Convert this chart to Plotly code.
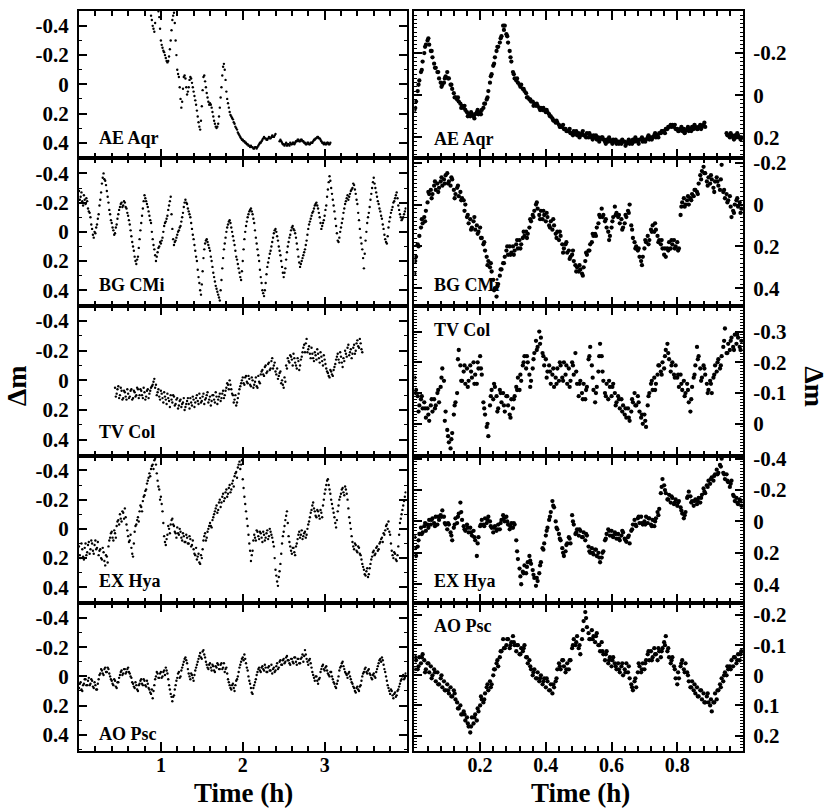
import plotly.graph_objects as go

# ---------------- time grids (hours) ----------------
T_LEFT = [
    0.00, 0.02, 0.04, 0.06, 0.08, 0.10, 0.12, 0.14, 0.16, 0.18,
    0.20, 0.22, 0.24, 0.26, 0.28, 0.30, 0.32, 0.34, 0.36, 0.38,
    0.40, 0.42, 0.44, 0.46, 0.48, 0.50, 0.52, 0.54, 0.56, 0.58,
    0.60, 0.62, 0.64, 0.66, 0.68, 0.70, 0.72, 0.74, 0.76, 0.78,
    0.80, 0.82, 0.84, 0.86, 0.88, 0.90, 0.92, 0.94, 0.96, 0.98,
    1.00, 1.02, 1.04, 1.06, 1.08, 1.10, 1.12, 1.14, 1.16, 1.18,
    1.20, 1.22, 1.24, 1.26, 1.28, 1.30, 1.32, 1.34, 1.36, 1.38,
    1.40, 1.42, 1.44, 1.46, 1.48, 1.50, 1.52, 1.54, 1.56, 1.58,
    1.60, 1.62, 1.64, 1.66, 1.68, 1.70, 1.72, 1.74, 1.76, 1.78,
    1.80, 1.82, 1.84, 1.86, 1.88, 1.90, 1.92, 1.94, 1.96, 1.98,
    2.00, 2.02, 2.04, 2.06, 2.08, 2.10, 2.12, 2.14, 2.16, 2.18,
    2.20, 2.22, 2.24, 2.26, 2.28, 2.30, 2.32, 2.34, 2.36, 2.38,
    2.40, 2.42, 2.44, 2.46, 2.48, 2.50, 2.52, 2.54, 2.56, 2.58,
    2.60, 2.62, 2.64, 2.66, 2.68, 2.70, 2.72, 2.74, 2.76, 2.78,
    2.80, 2.82, 2.84, 2.86, 2.88, 2.90, 2.92, 2.94, 2.96, 2.98,
    3.00, 3.02, 3.04, 3.06, 3.08, 3.10, 3.12, 3.14, 3.16, 3.18,
    3.20, 3.22, 3.24, 3.26, 3.28, 3.30, 3.32, 3.34, 3.36, 3.38,
    3.40, 3.42, 3.44, 3.46, 3.48, 3.50, 3.52, 3.54, 3.56, 3.58,
    3.60, 3.62, 3.64, 3.66, 3.68, 3.70, 3.72, 3.74, 3.76, 3.78,
    3.80, 3.82, 3.84, 3.86, 3.88, 3.90, 3.92, 3.94, 3.96, 3.98,
]

T_LEFT_B = [
    0.01, 0.03, 0.05, 0.07, 0.09, 0.11, 0.13, 0.15, 0.17, 0.19,
    0.21, 0.23, 0.25, 0.27, 0.29, 0.31, 0.33, 0.35, 0.37, 0.39,
    0.41, 0.43, 0.45, 0.47, 0.49, 0.51, 0.53, 0.55, 0.57, 0.59,
    0.61, 0.63, 0.65, 0.67, 0.69, 0.71, 0.73, 0.75, 0.77, 0.79,
    0.81, 0.83, 0.85, 0.87, 0.89, 0.91, 0.93, 0.95, 0.97, 0.99,
    1.01, 1.03, 1.05, 1.07, 1.09, 1.11, 1.13, 1.15, 1.17, 1.19,
    1.21, 1.23, 1.25, 1.27, 1.29, 1.31, 1.33, 1.35, 1.37, 1.39,
    1.41, 1.43, 1.45, 1.47, 1.49, 1.51, 1.53, 1.55, 1.57, 1.59,
    1.61, 1.63, 1.65, 1.67, 1.69, 1.71, 1.73, 1.75, 1.77, 1.79,
    1.81, 1.83, 1.85, 1.87, 1.89, 1.91, 1.93, 1.95, 1.97, 1.99,
    2.01, 2.03, 2.05, 2.07, 2.09, 2.11, 2.13, 2.15, 2.17, 2.19,
    2.21, 2.23, 2.25, 2.27, 2.29, 2.31, 2.33, 2.35, 2.37, 2.39,
    2.41, 2.43, 2.45, 2.47, 2.49, 2.51, 2.53, 2.55, 2.57, 2.59,
    2.61, 2.63, 2.65, 2.67, 2.69, 2.71, 2.73, 2.75, 2.77, 2.79,
    2.81, 2.83, 2.85, 2.87, 2.89, 2.91, 2.93, 2.95, 2.97, 2.99,
    3.01, 3.03, 3.05, 3.07, 3.09, 3.11, 3.13, 3.15, 3.17, 3.19,
    3.21, 3.23, 3.25, 3.27, 3.29, 3.31, 3.33, 3.35, 3.37, 3.39,
    3.41, 3.43, 3.45, 3.47, 3.49, 3.51, 3.53, 3.55, 3.57, 3.59,
    3.61, 3.63, 3.65, 3.67, 3.69, 3.71, 3.73, 3.75, 3.77, 3.79,
    3.81, 3.83, 3.85, 3.87, 3.89, 3.91, 3.93, 3.95, 3.97, 3.99,
]

T_RIGHT = [
    0.000, 0.005, 0.010, 0.015, 0.020, 0.025, 0.030, 0.035, 0.040, 0.045,
    0.050, 0.055, 0.060, 0.065, 0.070, 0.075, 0.080, 0.085, 0.090, 0.095,
    0.100, 0.105, 0.110, 0.115, 0.120, 0.125, 0.130, 0.135, 0.140, 0.145,
    0.150, 0.155, 0.160, 0.165, 0.170, 0.175, 0.180, 0.185, 0.190, 0.195,
    0.200, 0.205, 0.210, 0.215, 0.220, 0.225, 0.230, 0.235, 0.240, 0.245,
    0.250, 0.255, 0.260, 0.265, 0.270, 0.275, 0.280, 0.285, 0.290, 0.295,
    0.300, 0.305, 0.310, 0.315, 0.320, 0.325, 0.330, 0.335, 0.340, 0.345,
    0.350, 0.355, 0.360, 0.365, 0.370, 0.375, 0.380, 0.385, 0.390, 0.395,
    0.400, 0.405, 0.410, 0.415, 0.420, 0.425, 0.430, 0.435, 0.440, 0.445,
    0.450, 0.455, 0.460, 0.465, 0.470, 0.475, 0.480, 0.485, 0.490, 0.495,
    0.500, 0.505, 0.510, 0.515, 0.520, 0.525, 0.530, 0.535, 0.540, 0.545,
    0.550, 0.555, 0.560, 0.565, 0.570, 0.575, 0.580, 0.585, 0.590, 0.595,
    0.600, 0.605, 0.610, 0.615, 0.620, 0.625, 0.630, 0.635, 0.640, 0.645,
    0.650, 0.655, 0.660, 0.665, 0.670, 0.675, 0.680, 0.685, 0.690, 0.695,
    0.700, 0.705, 0.710, 0.715, 0.720, 0.725, 0.730, 0.735, 0.740, 0.745,
    0.750, 0.755, 0.760, 0.765, 0.770, 0.775, 0.780, 0.785, 0.790, 0.795,
    0.800, 0.805, 0.810, 0.815, 0.820, 0.825, 0.830, 0.835, 0.840, 0.845,
    0.850, 0.855, 0.860, 0.865, 0.870, 0.875, 0.880, 0.885, 0.890, 0.895,
    0.900, 0.905, 0.910, 0.915, 0.920, 0.925, 0.930, 0.935, 0.940, 0.945,
    0.950, 0.955, 0.960, 0.965, 0.970, 0.975, 0.980, 0.985, 0.990, 0.995,
]

T_RIGHT_B = [
    0.0025, 0.0125, 0.0225, 0.0325, 0.0425, 0.0525, 0.0625, 0.0725, 0.0825, 0.0925,
    0.1025, 0.1125, 0.1225, 0.1325, 0.1425, 0.1525, 0.1625, 0.1725, 0.1825, 0.1925,
    0.2025, 0.2125, 0.2225, 0.2325, 0.2425, 0.2525, 0.2625, 0.2725, 0.2825, 0.2925,
    0.3025, 0.3125, 0.3225, 0.3325, 0.3425, 0.3525, 0.3625, 0.3725, 0.3825, 0.3925,
    0.4025, 0.4125, 0.4225, 0.4325, 0.4425, 0.4525, 0.4625, 0.4725, 0.4825, 0.4925,
    0.5025, 0.5125, 0.5225, 0.5325, 0.5425, 0.5525, 0.5625, 0.5725, 0.5825, 0.5925,
    0.6025, 0.6125, 0.6225, 0.6325, 0.6425, 0.6525, 0.6625, 0.6725, 0.6825, 0.6925,
    0.7025, 0.7125, 0.7225, 0.7325, 0.7425, 0.7525, 0.7625, 0.7725, 0.7825, 0.7925,
    0.8025, 0.8125, 0.8225, 0.8325, 0.8425, 0.8525, 0.8625, 0.8725, 0.8825, 0.8925,
    0.9025, 0.9125, 0.9225, 0.9325, 0.9425, 0.9525, 0.9625, 0.9725, 0.9825, 0.9925,
]

# ---------------- left column light curves (Δm vs time, h) ----------------
# *_A sampled on T_LEFT, *_B on T_LEFT_B; START = first index on the grid
AE_AQR_L_START = 44
AE_AQR_L_A = [
    -0.47, -0.40, -0.36, -0.56, -0.56, -0.46, -0.30, -0.25, -0.22, -0.18,
    -0.15, -0.19, -0.30, -0.44, -0.49, -0.30, -0.10, -0.05, 0.10, 0.12,
    -0.05, -0.04, 0.07, 0.02, -0.05, -0.01, 0.05, 0.11, 0.18, 0.26,
    0.31, 0.15, -0.05, -0.02, 0.06, 0.12, 0.13, 0.16, 0.22, 0.27,
    0.30, 0.27, 0.16, 0.02, -0.12, -0.10, 0.05, 0.13, 0.19, 0.22,
    0.24, 0.27, 0.30, 0.33, 0.35, 0.37, 0.38, 0.39, 0.40, 0.41,
    0.42, 0.42, 0.43, 0.44, 0.43, 0.43, 0.41, 0.40, 0.38, 0.36,
    0.37, 0.38, 0.36, 0.37, 0.35, 0.36, 0.34, None, None, 0.38,
    0.40, 0.41, 0.41, 0.42, 0.41, 0.40, 0.41, 0.40, 0.40, 0.39,
    0.38, 0.39, 0.38, 0.39, 0.40, 0.41, 0.40, 0.41, 0.40, 0.39,
    0.38, 0.37, 0.36, 0.37, 0.39, 0.40, 0.40, 0.41, 0.40, 0.41,
]
AE_AQR_L_B = [
    -0.44, -0.38, -0.42, -0.56, -0.50, -0.38, -0.27, -0.23, -0.20, -0.16,
    -0.16, -0.24, -0.37, -0.47, -0.42, -0.20, -0.07, 0.02, 0.16, 0.03,
    -0.06, 0.02, 0.05, -0.03, -0.04, 0.02, 0.08, 0.14, 0.22, 0.29,
    0.25, 0.04, -0.06, 0.02, 0.09, 0.14, 0.14, 0.19, 0.25, 0.29,
    0.29, 0.22, 0.09, -0.06, -0.14, -0.03, 0.10, 0.16, 0.21, 0.23,
    0.26, 0.29, 0.31, 0.34, 0.36, 0.38, 0.39, 0.40, 0.41, 0.42,
    0.43, 0.43, 0.44, 0.43, 0.44, 0.42, 0.40, 0.39, 0.37, 0.37,
    0.38, 0.37, 0.37, 0.36, 0.36, 0.35, None, None, 0.39, 0.39,
    0.41, 0.42, 0.40, 0.41, 0.42, 0.41, 0.40, 0.41, 0.39, 0.38,
    0.39, 0.38, 0.39, 0.40, 0.41, 0.40, 0.41, 0.40, 0.40, 0.38,
    0.37, 0.36, 0.37, 0.38, 0.40, 0.41, 0.41, 0.40, 0.41, 0.40,
]

BG_CMI_L_START = 0
BG_CMI_L_A = [
    -0.28, -0.24, -0.21, -0.25, -0.19, -0.21, -0.14, -0.10, -0.02, 0.04,
    0.01, -0.05, -0.12, -0.22, -0.33, -0.40, -0.35, -0.28, -0.20, -0.12,
    -0.06, -0.01, 0.01, -0.05, -0.12, -0.17, -0.20, -0.18, -0.20, -0.16,
    -0.11, -0.05, 0.03, 0.10, 0.17, 0.22, 0.17, 0.05, -0.06, -0.16,
    -0.25, -0.21, -0.17, -0.11, -0.06, 0.05, 0.12, 0.20, 0.14, 0.10,
    0.08, 0.04, -0.04, -0.07, -0.11, -0.18, -0.24, -0.02, 0.09, 0.06,
    0.02, -0.01, -0.04, -0.10, -0.17, -0.22, -0.19, -0.14, -0.10, -0.02,
    0.05, 0.13, 0.20, 0.31, 0.40, 0.36, 0.18, 0.08, 0.05, 0.09,
    0.13, 0.20, 0.28, 0.34, 0.39, 0.43, 0.47, 0.33, 0.18, 0.08,
    0.00, -0.05, -0.08, -0.03, 0.03, 0.09, 0.17, 0.22, 0.28, 0.33,
    0.20, 0.05, -0.04, -0.10, -0.14, -0.16, -0.12, -0.06, 0.04, 0.12,
    0.20, 0.31, 0.40, 0.44, 0.35, 0.24, 0.18, 0.13, 0.07, 0.01,
    -0.02, 0.03, 0.10, 0.16, 0.24, 0.31, 0.25, 0.14, 0.07, 0.02,
    -0.03, -0.02, 0.01, 0.08, 0.17, 0.24, 0.20, 0.16, 0.12, 0.06,
    -0.02, -0.07, -0.11, -0.14, -0.18, -0.20, -0.16, -0.10, -0.02, -0.06,
    -0.11, -0.18, -0.29, -0.38, -0.30, -0.22, -0.14, -0.04, 0.06, 0.04,
    -0.03, -0.09, -0.16, -0.21, -0.25, -0.24, -0.28, -0.30, -0.32, -0.26,
    -0.19, -0.08, 0.04, 0.12, 0.25, 0.06, -0.06, -0.13, -0.22, -0.30,
    -0.37, -0.30, -0.24, -0.19, -0.14, -0.09, -0.02, 0.05, 0.08, -0.03,
    -0.10, -0.15, -0.20, -0.23, -0.27, -0.18, -0.12, -0.08, -0.10, -0.14,
]
BG_CMI_L_B = [
    -0.22, -0.27, -0.18, -0.22, -0.23, -0.16, -0.13, -0.05, 0.02, 0.00,
    -0.03, -0.09, -0.18, -0.27, -0.37, -0.36, -0.32, -0.24, -0.15, -0.08,
    -0.03, 0.02, -0.03, -0.09, -0.15, -0.19, -0.17, -0.21, -0.17, -0.13,
    -0.08, -0.01, 0.07, 0.13, 0.20, 0.19, 0.11, -0.01, -0.11, -0.21,
    -0.23, -0.19, -0.14, -0.08, 0.00, 0.09, 0.16, 0.17, 0.11, 0.07,
    0.06, 0.00, -0.06, -0.09, -0.15, -0.21, -0.12, 0.05, 0.07, 0.04,
    0.00, -0.03, -0.07, -0.13, -0.20, -0.20, -0.16, -0.12, -0.06, 0.02,
    0.09, 0.17, 0.26, 0.35, 0.43, 0.27, 0.12, 0.06, 0.07, 0.11,
    0.17, 0.24, 0.31, 0.37, 0.41, 0.45, 0.40, 0.25, 0.12, 0.04,
    -0.03, -0.07, -0.06, 0.00, 0.06, 0.13, 0.19, 0.25, 0.31, 0.27,
    0.12, 0.00, -0.07, -0.12, -0.15, -0.14, -0.09, -0.01, 0.08, 0.16,
    0.26, 0.35, 0.42, 0.40, 0.29, 0.21, 0.15, 0.10, 0.04, -0.01,
    0.00, 0.06, 0.13, 0.20, 0.28, 0.28, 0.19, 0.10, 0.04, -0.01,
    -0.04, -0.01, 0.04, 0.12, 0.21, 0.22, 0.18, 0.14, 0.09, 0.02,
    -0.05, -0.09, -0.13, -0.16, -0.19, -0.18, -0.13, -0.06, -0.04, -0.08,
    -0.15, -0.24, -0.34, -0.35, -0.26, -0.18, -0.09, 0.01, 0.07, 0.00,
    -0.06, -0.13, -0.19, -0.23, -0.22, -0.26, -0.29, -0.33, -0.29, -0.22,
    -0.13, -0.02, 0.08, 0.18, 0.15, 0.00, -0.10, -0.17, -0.26, -0.34,
    -0.33, -0.27, -0.21, -0.16, -0.11, -0.05, 0.02, 0.07, 0.03, -0.07,
    -0.13, -0.17, -0.21, -0.25, -0.23, -0.15, -0.10, -0.09, -0.12, -0.16,
]

TV_COL_L_START = 22
TV_COL_L_A = [
    0.05, 0.09, 0.04, 0.10, 0.07, 0.12, 0.08, 0.13, 0.09, 0.11,
    0.06, 0.12, 0.08, 0.10, 0.06, 0.10, 0.07, 0.12, 0.08, 0.11,
    0.06, 0.09, 0.05, 0.03, -0.01, 0.03, 0.08, 0.11, 0.07, 0.12,
    0.08, 0.13, 0.09, 0.14, 0.10, 0.15, 0.11, 0.16, 0.12, 0.17,
    0.13, 0.16, 0.12, 0.18, 0.14, 0.16, 0.12, 0.17, 0.13, 0.15,
    0.10, 0.16, 0.12, 0.14, 0.09, 0.13, 0.10, 0.15, 0.11, 0.14,
    0.10, 0.15, 0.11, 0.13, 0.09, 0.12, 0.07, 0.10, 0.05, 0.03,
    0.00, 0.06, 0.10, 0.13, 0.17, 0.12, 0.06, 0.02, -0.02, 0.03,
    -0.03, 0.02, -0.01, 0.04, 0.00, 0.03, -0.02, 0.05, 0.01, -0.04,
    -0.07, -0.03, -0.10, -0.06, -0.12, -0.08, -0.15, -0.10, -0.06, -0.08,
    -0.03, -0.06, 0.00, 0.05, 0.01, -0.08, -0.13, -0.17, -0.14, -0.18,
    -0.12, -0.08, -0.13, -0.10, -0.16, -0.22, -0.19, -0.28, -0.21, -0.18,
    -0.22, -0.15, -0.19, -0.14, -0.18, -0.12, -0.16, -0.10, -0.14, -0.08,
    -0.05, -0.02, -0.06, -0.03, -0.09, -0.14, -0.18, -0.12, -0.16, -0.09,
    -0.13, -0.18, -0.22, -0.17, -0.21, -0.18, -0.24, -0.20, -0.27, -0.22,
    -0.25, -0.19,
]
TV_COL_L_B = [
    0.11, 0.06, 0.12, 0.05, 0.13, 0.07, 0.11, 0.06, 0.12, 0.07,
    0.13, 0.07, 0.11, 0.05, 0.12, 0.06, 0.10, 0.05, 0.13, 0.07,
    0.12, 0.07, 0.04, 0.01, 0.05, 0.10, 0.06, 0.13, 0.09, 0.15,
    0.11, 0.16, 0.12, 0.18, 0.13, 0.10, 0.17, 0.13, 0.19, 0.14,
    0.18, 0.15, 0.20, 0.16, 0.12, 0.19, 0.15, 0.11, 0.18, 0.12,
    0.14, 0.09, 0.15, 0.11, 0.16, 0.12, 0.08, 0.13, 0.17, 0.10,
    0.13, 0.08, 0.16, 0.11, 0.14, 0.09, 0.12, 0.07, 0.02, 0.06,
    0.03, 0.09, 0.15, 0.10, 0.15, 0.09, 0.04, 0.00, 0.02, -0.02,
    0.01, -0.03, 0.03, -0.02, 0.05, 0.01, 0.04, -0.03, 0.02, -0.06,
    -0.04, -0.09, -0.05, -0.11, -0.07, -0.13, -0.08, -0.12, -0.04, -0.01,
    -0.05, 0.02, 0.03, -0.02, -0.10, -0.15, -0.12, -0.16, -0.10, -0.15,
    -0.10, -0.15, -0.07, -0.14, -0.19, -0.24, -0.25, -0.19, -0.23, -0.15,
    -0.18, -0.13, -0.17, -0.21, -0.15, -0.19, -0.13, -0.17, -0.11, -0.06,
    -0.03, -0.07, -0.04, -0.07, -0.11, -0.16, -0.14, -0.19, -0.12, -0.15,
    -0.20, -0.16, -0.24, -0.19, -0.15, -0.22, -0.18, -0.25, -0.23, -0.28,
    -0.21,
]

EX_HYA_L_START = 0
EX_HYA_L_A = [
    0.12, 0.20, 0.14, 0.21, 0.10, 0.16, 0.09, 0.14, 0.10, 0.17,
    0.08, 0.13, 0.18, 0.14, 0.21, 0.16, 0.25, 0.19, 0.12, 0.06,
    0.02, 0.08, 0.03, -0.02, -0.06, -0.10, -0.05, -0.11, -0.14, -0.03,
    0.05, 0.08, 0.13, 0.19, 0.02, -0.03, -0.08, -0.12, -0.15, -0.19,
    -0.23, -0.27, -0.33, -0.38, -0.41, -0.44, -0.47, -0.44, -0.33, -0.27,
    -0.22, -0.12, 0.05, 0.11, 0.04, 0.00, -0.03, -0.07, -0.02, 0.03,
    -0.01, 0.04, 0.02, 0.08, 0.05, 0.09, 0.06, 0.10, 0.07, 0.11,
    0.14, 0.18, 0.21, 0.17, 0.24, 0.20, 0.08, 0.03, 0.06, 0.00,
    -0.04, -0.01, -0.08, -0.12, -0.16, -0.13, -0.20, -0.18, -0.24, -0.21,
    -0.27, -0.24, -0.30, -0.27, -0.33, -0.36, -0.39, -0.42, -0.46, -0.44,
    -0.34, -0.22, -0.12, -0.02, 0.10, 0.22, 0.15, 0.04, 0.08, 0.02,
    0.07, 0.03, 0.09, 0.04, 0.06, 0.01, 0.05, 0.02, 0.06, 0.12,
    0.28, 0.36, 0.33, 0.24, 0.10, 0.02, -0.06, -0.12, 0.05, 0.12,
    0.17, 0.13, 0.18, 0.10, 0.04, 0.06, 0.01, 0.05, 0.02, 0.04,
    -0.03, -0.08, -0.13, -0.18, -0.12, -0.08, -0.12, -0.07, -0.11, -0.16,
    -0.24, -0.30, -0.34, -0.27, -0.20, -0.14, -0.08, -0.01, -0.12, -0.20,
    -0.24, -0.28, -0.23, -0.27, -0.20, -0.08, 0.00, 0.09, 0.14, 0.11,
    0.16, 0.13, 0.18, 0.24, 0.28, 0.32, 0.27, 0.31, 0.24, 0.19,
    0.15, 0.17, 0.12, 0.14, 0.09, 0.06, 0.03, 0.01, -0.03, -0.05,
    0.04, 0.15, 0.20, 0.17, 0.22, 0.12, -0.04, -0.10, -0.16, -0.22,
]
EX_HYA_L_B = [
    0.18, 0.10, 0.19, 0.13, 0.18, 0.11, 0.17, 0.08, 0.15, 0.11,
    0.14, 0.09, 0.15, 0.20, 0.13, 0.22, 0.18, 0.23, 0.08, 0.03,
    0.06, 0.01, 0.06, -0.05, -0.03, -0.07, -0.12, -0.07, -0.08, 0.01,
    0.09, 0.04, 0.17, 0.10, -0.02, -0.06, -0.05, -0.16, -0.12, -0.22,
    -0.26, -0.31, -0.35, -0.36, -0.43, -0.41, -0.48, -0.38, -0.29, -0.20,
    -0.17, -0.04, 0.09, 0.07, -0.02, 0.03, -0.06, -0.03, 0.02, 0.06,
    0.03, 0.00, 0.06, 0.03, 0.09, 0.04, 0.10, 0.05, 0.12, 0.08,
    0.17, 0.13, 0.19, 0.23, 0.18, 0.14, 0.05, 0.08, 0.02, -0.02,
    -0.02, -0.06, -0.10, -0.14, -0.11, -0.18, -0.15, -0.22, -0.19, -0.25,
    -0.22, -0.28, -0.25, -0.31, -0.29, -0.38, -0.35, -0.44, -0.41, -0.47,
    -0.28, -0.17, -0.07, 0.04, 0.15, 0.18, 0.08, 0.06, 0.01, 0.05,
    0.02, 0.06, 0.02, 0.08, 0.03, 0.07, 0.00, 0.04, 0.09, 0.20,
    0.32, 0.39, 0.29, 0.17, 0.05, -0.02, -0.09, -0.04, 0.09, 0.15,
    0.13, 0.16, 0.12, 0.07, 0.02, 0.04, 0.07, 0.03, 0.06, 0.00,
    -0.05, -0.11, -0.16, -0.14, -0.09, -0.13, -0.09, -0.13, -0.08, -0.20,
    -0.27, -0.33, -0.30, -0.24, -0.17, -0.11, -0.04, -0.06, -0.16, -0.22,
    -0.27, -0.25, -0.29, -0.24, -0.14, -0.04, 0.05, 0.12, 0.10, 0.15,
    0.12, 0.17, 0.21, 0.26, 0.31, 0.29, 0.33, 0.27, 0.21, 0.16,
    0.18, 0.13, 0.15, 0.10, 0.07, 0.09, 0.04, -0.02, 0.00, 0.02,
    0.10, 0.18, 0.16, 0.21, 0.18, 0.04, -0.07, -0.13, -0.19, -0.25,
]

AO_PSC_L_START = 0
AO_PSC_L_A = [
    0.08, 0.04, 0.10, 0.05, 0.02, 0.06, 0.01, 0.05, 0.03, 0.08,
    0.06, 0.09, 0.02, -0.02, -0.04, -0.01, -0.06, -0.03, -0.05, 0.00,
    0.03, 0.06, 0.03, 0.08, 0.04, -0.01, -0.04, -0.02, -0.05, -0.03,
    -0.06, -0.02, 0.01, 0.05, 0.08, 0.06, 0.10, 0.05, 0.02, 0.06,
    0.03, 0.07, 0.05, 0.09, 0.12, 0.15, 0.06, 0.00, -0.02, 0.01,
    -0.03, 0.00, -0.04, -0.06, -0.02, 0.06, 0.12, 0.17, 0.13, 0.06,
    0.01, -0.03, 0.00, -0.06, -0.10, -0.13, -0.09, -0.02, 0.02, -0.01,
    0.03, -0.04, -0.08, -0.12, -0.16, -0.12, -0.18, -0.13, -0.08, -0.05,
    -0.09, -0.04, -0.07, -0.03, -0.06, -0.08, -0.05, -0.09, -0.06, -0.03,
    -0.06, 0.02, 0.06, 0.09, 0.05, 0.10, 0.03, 0.00, -0.06, -0.10,
    -0.13, -0.15, -0.09, -0.04, 0.03, 0.08, 0.12, 0.06, 0.02, -0.03,
    -0.06, -0.03, -0.07, -0.04, -0.06, -0.03, -0.07, -0.04, -0.02, -0.06,
    -0.04, -0.09, -0.06, -0.11, -0.08, -0.12, -0.10, -0.14, -0.11, -0.08,
    -0.12, -0.09, -0.13, -0.08, -0.12, -0.09, -0.13, -0.10, -0.18, -0.12,
    -0.08, -0.12, -0.06, -0.01, 0.03, 0.00, 0.05, 0.01, -0.05, -0.08,
    -0.04, -0.07, -0.02, 0.00, -0.03, 0.02, 0.05, 0.08, 0.03, -0.04,
    -0.07, -0.10, -0.05, -0.02, 0.01, -0.03, 0.02, 0.05, 0.08, 0.11,
    0.07, 0.10, 0.06, 0.00, -0.03, -0.06, -0.02, -0.05, -0.01, 0.02,
    -0.02, 0.01, -0.05, -0.09, -0.12, -0.13, -0.08, -0.03, 0.03, 0.08,
    0.12, 0.10, 0.15, 0.11, 0.13, 0.09, 0.05, 0.02, -0.01, 0.01,
]
AO_PSC_L_B = [
    0.05, 0.09, 0.06, 0.02, 0.06, 0.03, 0.06, 0.02, 0.07, 0.04,
    0.09, 0.05, -0.01, -0.05, -0.02, -0.05, -0.03, -0.06, -0.02, 0.02,
    0.05, 0.02, 0.07, 0.04, 0.01, -0.03, -0.01, -0.05, -0.02, -0.05,
    -0.03, 0.00, 0.04, 0.07, 0.04, 0.09, 0.06, 0.03, 0.05, 0.02,
    0.06, 0.03, 0.08, 0.11, 0.09, 0.10, 0.02, -0.03, 0.01, -0.02,
    0.01, -0.03, -0.01, -0.04, 0.02, 0.09, 0.14, 0.14, 0.09, 0.03,
    -0.02, 0.01, -0.04, -0.08, -0.12, -0.11, -0.05, 0.00, -0.02, 0.01,
    -0.01, -0.06, -0.10, -0.14, -0.13, -0.17, -0.15, -0.10, -0.06, -0.08,
    -0.06, -0.08, -0.04, -0.07, -0.09, -0.05, -0.08, -0.05, -0.09, -0.05,
    -0.02, 0.04, 0.08, 0.06, 0.08, 0.06, 0.02, -0.03, -0.08, -0.12,
    -0.11, -0.12, -0.06, 0.00, 0.05, 0.11, 0.08, 0.04, -0.01, -0.05,
    -0.04, -0.06, -0.05, -0.08, -0.03, -0.06, -0.04, -0.08, -0.05, -0.03,
    -0.07, -0.05, -0.10, -0.08, -0.11, -0.09, -0.13, -0.11, -0.09, -0.12,
    -0.10, -0.13, -0.10, -0.12, -0.09, -0.12, -0.15, -0.14, -0.15, -0.10,
    -0.11, -0.09, -0.03, 0.01, 0.00, 0.03, 0.02, -0.03, -0.07, -0.05,
    -0.06, -0.04, -0.01, -0.03, 0.00, 0.04, 0.07, 0.05, 0.00, -0.06,
    -0.09, -0.07, -0.03, -0.01, -0.02, 0.00, 0.04, 0.07, 0.10, 0.08,
    0.09, 0.07, 0.03, -0.02, -0.05, -0.03, -0.04, -0.02, 0.01, -0.01,
    0.00, -0.03, -0.07, -0.11, -0.10, -0.11, -0.05, 0.00, 0.06, 0.10,
    0.09, 0.13, 0.12, 0.14, 0.10, 0.07, 0.03, 0.00, 0.02, -0.02,
]

# ---------------- right column light curves ----------------
# *_R sampled on T_RIGHT; *_RB (extra scatter samples) on T_RIGHT_B
AE_AQR_R = [
    0.07, 0.03, -0.02, -0.07, -0.11, -0.16, -0.20, -0.24, -0.26, -0.24,
    -0.21, -0.18, -0.15, -0.13, -0.11, -0.08, -0.06, -0.05, -0.06, -0.09,
    -0.11, -0.08, -0.05, -0.03, -0.01, 0.01, 0.02, 0.03, 0.04, 0.05,
    0.06, 0.07, 0.08, 0.09, 0.10, 0.09, 0.10, 0.09, 0.08, 0.09,
    0.08, 0.07, 0.06, 0.04, 0.02, -0.02, -0.06, -0.10, -0.14, -0.18,
    -0.21, -0.23, -0.25, -0.28, -0.33, -0.33, -0.29, -0.25, -0.21, -0.16,
    -0.11, -0.08, -0.07, -0.06, -0.05, -0.05, -0.03, -0.02, -0.01, 0.01,
    0.02, 0.03, 0.03, 0.04, 0.05, 0.05, 0.06, 0.06, 0.07, 0.07,
    0.08, 0.08, 0.09, 0.10, 0.11, 0.12, 0.13, 0.13, 0.14, 0.15,
    0.15, 0.16, 0.16, 0.17, 0.17, 0.18, 0.18, 0.17, 0.18, 0.19,
    0.18, 0.19, 0.18, 0.19, 0.19, 0.18, 0.20, 0.19, 0.20, 0.19,
    0.20, 0.21, 0.20, 0.21, 0.20, 0.21, 0.22, 0.21, 0.22, 0.21,
    0.22, 0.21, 0.22, 0.23, 0.22, 0.22, 0.23, 0.22, 0.22, 0.23,
    0.22, 0.23, 0.22, 0.21, 0.22, 0.21, 0.22, 0.21, 0.21, 0.22,
    0.21, 0.21, 0.20, 0.21, 0.20, 0.20, 0.19, 0.20, 0.19, 0.18,
    0.18, 0.17, 0.17, 0.16, 0.16, 0.15, 0.14, 0.14, 0.15, 0.16,
    0.16, 0.17, 0.16, 0.17, 0.16, 0.17, 0.16, 0.17, 0.16, 0.15,
    0.16, 0.15, 0.16, 0.15, 0.14, 0.15, 0.14, 0.15, None, None,
    None, None, None, None, None, None, None, None, None, None,
    0.18, 0.19, 0.20, 0.19, 0.20, 0.19, 0.20, 0.19, 0.20, 0.20,
]
AE_AQR_RB = [
    0.06, -0.05, -0.12, -0.23, -0.27, -0.21, -0.13, -0.11, -0.04, -0.08,
    -0.08, -0.05, 0.01, 0.01, 0.06, 0.05, 0.10, 0.08, 0.11, 0.07,
    0.09, 0.04, 0.01, -0.09, -0.15, -0.23, -0.27, -0.31, -0.28, -0.18,
    -0.10, -0.08, -0.04, -0.03, 0.01, 0.02, 0.05, 0.04, 0.07, 0.06,
    0.07, 0.10, 0.12, 0.12, 0.15, 0.14, 0.17, 0.16, 0.19, 0.17,
    0.20, 0.17, 0.20, 0.18, 0.21, 0.19, 0.22, 0.20, 0.23, 0.20,
    0.23, 0.21, 0.23, 0.21, 0.24, 0.21, 0.23, 0.20, 0.23, 0.20,
    0.22, 0.19, 0.21, 0.18, 0.20, 0.17, 0.18, 0.15, 0.15, 0.14,
    0.17, 0.15, 0.18, 0.15, 0.17, 0.14, 0.16, 0.16, 0.13, None,
    None, None, None, None, None, 0.19, 0.18, 0.21, 0.18, 0.21,
]

BG_CMI_R = [
    0.33, 0.25, 0.19, 0.15, 0.11, 0.09, 0.06, 0.03, -0.01, -0.05,
    -0.07, -0.05, -0.09, -0.07, -0.10, -0.08, -0.11, -0.09, -0.12, -0.14,
    -0.15, -0.11, -0.09, -0.12, -0.07, -0.05, -0.08, -0.04, -0.06, -0.03,
    -0.02, 0.00, 0.06, 0.09, 0.07, 0.11, 0.08, 0.12, 0.10, 0.13,
    0.11, 0.16, 0.19, 0.22, 0.25, 0.27, 0.30, 0.32, 0.36, 0.40,
    0.44, 0.38, 0.34, 0.31, 0.28, 0.25, 0.22, 0.24, 0.20, 0.23,
    0.20, 0.22, 0.19, 0.21, 0.17, 0.19, 0.16, 0.15, 0.13, 0.14,
    0.11, 0.08, 0.05, 0.03, 0.00, 0.02, 0.05, 0.03, 0.07, 0.05,
    0.08, 0.06, 0.10, 0.08, 0.12, 0.10, 0.14, 0.13, 0.17, 0.15,
    0.19, 0.21, 0.19, 0.23, 0.22, 0.25, 0.24, 0.27, 0.29, 0.30,
    0.32, 0.31, 0.33, 0.30, 0.27, 0.24, 0.22, 0.19, 0.18, 0.15,
    0.14, 0.11, 0.09, 0.06, 0.02, 0.05, 0.08, 0.11, 0.13, 0.15,
    0.11, 0.06, 0.01, 0.04, 0.06, 0.09, 0.07, 0.11, 0.09, 0.06,
    0.03, 0.00, 0.10, 0.16, 0.18, 0.20, 0.22, 0.25, 0.27, 0.25,
    0.21, 0.18, 0.15, 0.17, 0.12, 0.10, 0.13, 0.12, 0.15, 0.17,
    0.19, 0.21, 0.24, 0.25, 0.21, 0.18, 0.21, 0.19, 0.17, 0.20,
    0.18, 0.21, 0.05, -0.01, -0.03, 0.00, -0.02, 0.00, -0.03, -0.05,
    -0.04, -0.07, -0.06, -0.10, -0.14, -0.16, -0.18, -0.15, -0.11, -0.13,
    -0.10, -0.12, -0.08, -0.11, -0.13, -0.09, -0.07, -0.19, -0.06, -0.03,
    -0.05, -0.02, -0.04, 0.06, 0.03, 0.00, -0.02, 0.01, -0.01, 0.02,
]
BG_CMI_RB = [
    0.27, 0.20, 0.07, 0.08, -0.06, -0.03, -0.11, -0.06, -0.13, -0.10,
    -0.10, -0.13, -0.03, -0.09, -0.02, 0.03, 0.05, 0.12, 0.06, 0.14,
    0.16, 0.18, 0.29, 0.28, 0.41, 0.39, 0.31, 0.28, 0.20, 0.24,
    0.24, 0.17, 0.21, 0.13, 0.16, 0.07, 0.06, -0.01, 0.07, 0.03,
    0.04, 0.11, 0.07, 0.16, 0.13, 0.23, 0.18, 0.26, 0.22, 0.32,
    0.29, 0.34, 0.23, 0.22, 0.14, 0.15, 0.05, 0.06, 0.07, 0.17,
    0.08, 0.05, 0.05, 0.12, 0.05, 0.04, 0.12, 0.21, 0.21, 0.29,
    0.17, 0.19, 0.13, 0.09, 0.18, 0.17, 0.21, 0.22, 0.17, 0.21,
    0.22, 0.01, 0.01, -0.04, -0.02, -0.07, -0.05, -0.12, -0.15, -0.09,
    -0.14, -0.06, -0.11, -0.12, -0.07, -0.01, 0.01, 0.04, -0.03, 0.04,
]

TV_COL_R = [
    -0.15, -0.11, -0.09, -0.06, -0.08, -0.05, -0.07, -0.02, -0.05, -0.01,
    -0.06, -0.04, -0.08, -0.06, -0.10, -0.07, -0.12, -0.18, -0.14, -0.04,
    0.02, 0.06, 0.08, 0.03, -0.03, -0.07, -0.10, -0.24, -0.19, -0.14,
    -0.17, -0.13, -0.18, -0.14, -0.19, -0.15, -0.20, -0.16, -0.13, -0.18,
    -0.22, -0.16, -0.07, -0.03, 0.01, 0.04, -0.06, -0.11, -0.08, -0.12,
    -0.09, -0.05, -0.11, -0.07, -0.10, -0.04, -0.09, -0.06, -0.03, -0.08,
    -0.05, -0.09, -0.12, -0.15, -0.11, -0.14, -0.19, -0.22, -0.18, -0.20,
    -0.16, -0.14, -0.18, -0.23, -0.27, -0.25, -0.30, -0.28, -0.23, -0.19,
    -0.21, -0.17, -0.19, -0.13, -0.16, -0.12, -0.15, -0.18, -0.14, -0.19,
    -0.15, -0.20, -0.16, -0.13, -0.18, -0.14, -0.20, -0.16, -0.23, -0.13,
    -0.09, -0.14, -0.10, -0.13, -0.08, -0.12, -0.21, -0.25, -0.19, -0.11,
    -0.07, -0.12, -0.17, -0.26, -0.22, -0.14, -0.10, -0.13, -0.08, -0.12,
    -0.09, -0.13, -0.10, -0.07, -0.09, -0.05, -0.08, -0.06, -0.03, -0.02,
    -0.05, -0.01, -0.04, -0.07, -0.10, -0.06, -0.09, -0.04, -0.02, 0.00,
    -0.03, 0.01, -0.06, -0.10, -0.13, -0.11, -0.15, -0.13, -0.16, -0.19,
    -0.17, -0.20, -0.18, -0.24, -0.26, -0.21, -0.17, -0.20, -0.16, -0.19,
    -0.15, -0.12, -0.16, -0.11, -0.14, -0.10, -0.13, -0.07, -0.04, -0.12,
    -0.15, -0.19, -0.25, -0.22, -0.18, -0.15, -0.19, -0.16, -0.13, -0.11,
    -0.14, -0.10, -0.15, -0.19, -0.17, -0.21, -0.18, -0.22, -0.25, -0.31,
    -0.23, -0.26, -0.24, -0.28, -0.25, -0.29, -0.26, -0.28, -0.25, -0.27,
]
TV_COL_RB = [
    -0.10, -0.04, -0.09, -0.05, -0.03, -0.08, -0.05, -0.11, -0.15, -0.01,
    0.04, 0.05, -0.06, -0.21, -0.14, -0.19, -0.12, -0.17, -0.13, -0.20,
    -0.18, -0.05, 0.00, -0.09, -0.13, -0.04, -0.10, -0.06, -0.09, -0.02,
    -0.08, -0.11, -0.16, -0.20, -0.22, -0.12, -0.21, -0.24, -0.26, -0.22,
    -0.15, -0.17, -0.18, -0.13, -0.20, -0.14, -0.19, -0.12, -0.19, -0.17,
    -0.13, -0.08, -0.11, -0.22, -0.15, -0.10, -0.22, -0.17, -0.09, -0.14,
    -0.12, -0.06, -0.08, -0.04, -0.05, -0.02, -0.08, -0.06, -0.07, -0.03,
    -0.01, -0.09, -0.14, -0.11, -0.19, -0.16, -0.22, -0.23, -0.19, -0.15,
    -0.16, -0.13, -0.09, -0.11, -0.08, -0.16, -0.21, -0.14, -0.18, -0.10,
    -0.13, -0.16, -0.20, -0.19, -0.27, -0.23, -0.27, -0.24, -0.29, -0.24,
]

EX_HYA_R = [
    0.10, 0.22, 0.16, 0.08, 0.04, 0.07, 0.03, 0.06, 0.02, -0.01,
    0.02, -0.02, 0.01, -0.03, 0.02, -0.01, -0.04, -0.07, -0.03, 0.02,
    0.05, 0.02, 0.07, 0.12, 0.04, -0.02, 0.01, -0.05, -0.12, -0.01,
    0.03, 0.06, 0.02, 0.07, 0.04, 0.09, 0.06, 0.12, 0.22, 0.10,
    0.03, -0.01, 0.02, -0.02, 0.01, -0.03, 0.00, 0.04, 0.07, 0.03,
    0.06, 0.02, 0.05, -0.01, -0.04, 0.00, -0.03, 0.02, 0.05, 0.01,
    0.04, 0.02, 0.12, 0.24, 0.30, 0.40, 0.32, 0.28, 0.33, 0.26,
    0.22, 0.27, 0.31, 0.36, 0.41, 0.38, 0.33, 0.26, 0.17, 0.14,
    0.09, 0.04, -0.01, -0.06, -0.13, -0.09, 0.00, 0.05, 0.08, 0.12,
    0.17, 0.22, 0.19, 0.14, 0.10, 0.14, -0.04, 0.02, 0.08, 0.05,
    0.09, 0.06, 0.10, 0.07, 0.12, 0.09, 0.16, 0.20, 0.17, 0.21,
    0.18, 0.22, 0.20, 0.26, 0.23, 0.19, 0.12, 0.08, 0.05, 0.09,
    0.06, 0.10, 0.07, 0.11, 0.08, 0.12, 0.09, 0.07, 0.11, 0.13,
    0.10, 0.14, 0.06, 0.02, -0.01, 0.03, -0.02, 0.01, -0.03, 0.02,
    0.00, -0.03, 0.01, -0.02, 0.02, -0.01, 0.03, -0.02, -0.06, -0.08,
    -0.18, -0.27, -0.23, -0.18, -0.14, -0.17, -0.12, -0.15, -0.11, -0.14,
    -0.10, -0.13, -0.09, -0.05, -0.02, -0.06, -0.15, -0.19, -0.16, -0.13,
    -0.10, -0.14, -0.11, -0.15, -0.12, -0.17, -0.21, -0.18, -0.23, -0.26,
    -0.24, -0.28, -0.26, -0.30, -0.33, -0.31, -0.36, -0.40, -0.31, -0.27,
    -0.30, -0.25, -0.22, -0.26, -0.17, -0.13, -0.15, -0.11, -0.14, -0.10,
]
EX_HYA_RB = [
    0.17, 0.12, 0.08, 0.01, 0.04, -0.01, 0.03, -0.03, -0.03, 0.01,
    0.01, 0.09, 0.02, -0.03, -0.06, 0.05, 0.04, 0.07, 0.10, 0.14,
    0.02, 0.03, -0.01, 0.03, 0.04, 0.05, 0.01, -0.02, 0.00, 0.03,
    0.01, 0.19, 0.35, 0.33, 0.29, 0.25, 0.34, 0.36, 0.28, 0.18,
    0.06, -0.03, -0.10, 0.04, 0.11, 0.20, 0.15, 0.11, 0.00, 0.07,
    0.05, 0.10, 0.08, 0.19, 0.20, 0.18, 0.23, 0.20, 0.11, 0.06,
    0.09, 0.08, 0.11, 0.06, 0.12, 0.09, 0.05, 0.02, -0.03, 0.01,
    0.02, -0.02, 0.03, 0.00, -0.04, -0.22, -0.20, -0.14, -0.16, -0.12,
    -0.12, -0.07, -0.04, -0.16, -0.12, -0.13, -0.13, -0.15, -0.19, -0.22,
    -0.27, -0.29, -0.30, -0.35, -0.30, -0.26, -0.24, -0.16, -0.12, -0.13,
]

AO_PSC_R = [
    -0.02, -0.05, -0.02, -0.06, -0.04, -0.07, -0.05, -0.02, -0.04, -0.01,
    -0.03, 0.00, -0.02, 0.02, -0.01, 0.03, 0.01, 0.04, 0.02, 0.05,
    0.03, 0.06, 0.04, 0.07, 0.05, 0.08, 0.09, 0.11, 0.10, 0.13,
    0.12, 0.15, 0.14, 0.17, 0.19, 0.14, 0.16, 0.13, 0.15, 0.12,
    0.10, 0.08, 0.09, 0.06, 0.04, 0.05, 0.02, 0.03, 0.00, -0.02,
    -0.04, -0.03, -0.06, -0.08, -0.12, -0.09, -0.10, -0.12, -0.09, -0.11,
    -0.13, -0.10, -0.08, -0.10, -0.07, -0.09, -0.08, -0.10, -0.06, -0.04,
    -0.05, -0.02, 0.00, -0.02, 0.01, -0.01, 0.02, 0.00, 0.03, 0.01,
    0.04, 0.02, 0.05, 0.03, 0.06, 0.04, 0.02, -0.02, -0.04, -0.02,
    -0.05, -0.03, -0.01, -0.04, -0.02, -0.05, -0.09, -0.12, -0.10, -0.13,
    -0.09, -0.07, -0.12, -0.18, -0.21, -0.16, -0.14, -0.12, -0.15, -0.13,
    -0.11, -0.14, -0.10, -0.08, -0.11, -0.07, -0.05, -0.08, -0.04, -0.06,
    -0.03, -0.06, -0.04, -0.02, -0.04, -0.01, -0.03, 0.00, -0.02, -0.04,
    -0.01, 0.01, 0.03, 0.05, 0.02, 0.04, -0.01, -0.03, -0.01, -0.04,
    -0.02, -0.05, -0.07, -0.05, -0.08, -0.06, -0.09, -0.07, -0.05, -0.08,
    -0.06, -0.09, -0.11, -0.13, -0.08, -0.06, -0.04, -0.06, -0.03, 0.01,
    0.03, 0.01, -0.03, -0.05, -0.02, -0.04, -0.01, 0.02, 0.04, 0.02,
    0.05, 0.06, 0.04, 0.07, 0.05, 0.08, 0.06, 0.09, 0.07, 0.09,
    0.10, 0.12, 0.09, 0.06, 0.08, 0.05, 0.03, 0.01, 0.02, -0.01,
    0.00, -0.02, -0.03, -0.05, -0.03, -0.06, -0.04, -0.07, -0.05, -0.08,
]
AO_PSC_RB = [
    -0.06, -0.03, -0.06, -0.01, -0.04, 0.01, -0.01, 0.03, 0.00, 0.05,
    0.05, 0.07, 0.06, 0.11, 0.13, 0.13, 0.16, 0.17, 0.14, 0.11,
    0.07, 0.08, 0.03, 0.04, -0.02, -0.05, -0.08, -0.09, -0.12, -0.10,
    -0.11, -0.10, -0.07, -0.09, -0.06, -0.03, -0.01, 0.01, 0.01, 0.02,
    0.01, 0.05, 0.03, 0.01, -0.03, -0.05, -0.02, -0.05, -0.10, -0.11,
    -0.10, -0.15, -0.19, -0.12, -0.12, -0.13, -0.10, -0.08, -0.07, -0.05,
    -0.05, -0.03, -0.02, -0.04, -0.01, -0.03, 0.04, 0.01, -0.04, -0.02,
    -0.04, -0.08, -0.05, -0.07, -0.09, -0.08, -0.10, -0.09, -0.05, -0.02,
    -0.01, -0.04, -0.01, 0.00, 0.04, 0.03, 0.07, 0.05, 0.09, 0.06,
    0.08, 0.09, 0.05, 0.04, 0.00, -0.03, -0.02, -0.06, -0.05, -0.07,
]

STAR_NAMES = ["AE Aqr", "BG CMi", "TV Col", "EX Hya", "AO Psc"]
LEFT_SERIES = [
    (AE_AQR_L_START, AE_AQR_L_A, AE_AQR_L_B),
    (BG_CMI_L_START, BG_CMI_L_A, BG_CMI_L_B),
    (TV_COL_L_START, TV_COL_L_A, TV_COL_L_B),
    (EX_HYA_L_START, EX_HYA_L_A, EX_HYA_L_B),
    (AO_PSC_L_START, AO_PSC_L_A, AO_PSC_L_B),
]
RIGHT_SERIES = [(AE_AQR_R, AE_AQR_RB), (BG_CMI_R, BG_CMI_RB), (TV_COL_R, TV_COL_RB),
                (EX_HYA_R, EX_HYA_RB), (AO_PSC_R, AO_PSC_RB)]

LEFT_YTICKS = [-0.4, -0.2, 0, 0.2, 0.4]
RIGHT_YTICKS = [[-0.2, 0, 0.2], [-0.2, 0, 0.2, 0.4], [-0.3, -0.2, -0.1, 0],
                [-0.4, -0.2, 0, 0.2, 0.4], [-0.2, -0.1, 0, 0.1, 0.2]]
LEFT_XTICKS = [1, 2, 3]
RIGHT_XTICKS = [0.2, 0.4, 0.6, 0.8]

# ---------------- geometry / style ----------------
W, H = 830, 810
XL = (79.0, 406.5)
XR = (414.4, 743.0)
ROWS = [(3, 152), (152, 301), (301, 452), (452, 601), (601, 750)]
LEFT_YRANGE = [0.508, -0.502]
RIGHT_YRANGES = [[0.30, -0.40], [0.485, -0.22], [0.103, -0.383],
                 [0.52, -0.42], [0.25, -0.24]]
RIGHT_YMINOR = [0.02, 0.02, 0.01, 0.02, 0.01]
LABEL_Y_LEFT = [131, 280, 428, 579, 733]
LABEL_Y_RIGHT = [132, 280, 325, 579, 624]

FONT = "Liberation Serif"


def fmt(v):
    return "0" if v == 0 else "%g" % v


def px(x):
    return x / W


def py(y):
    return 1 - y / H


fig = go.Figure()
layout = dict(width=W, height=H, margin=dict(l=0, r=0, t=0, b=0),
              paper_bgcolor="white", plot_bgcolor="white", showlegend=False)
annotations = []
ytick_font = dict(family=FONT, size=21, color="black", weight="bold")
xtick_font = dict(family=FONT, size=20, color="black", weight="bold")

k = 0
for row in range(5):
    y0, y1 = ROWS[row]
    ydom = [py(y1), py(y0)]
    for col in range(2):
        k += 1
        xa = "xaxis" if k == 1 else "xaxis%d" % k
        ya = "yaxis" if k == 1 else "yaxis%d" % k
        xr = "x" if k == 1 else "x%d" % k
        yr = "y" if k == 1 else "y%d" % k
        bottom = (row == 4)
        if col == 0:
            start, va, vb = LEFT_SERIES[row]
            traces = [(T_LEFT[start:start + len(va)], va),
                      (T_LEFT_B[start:start + len(vb)], vb)]
            msize = 2.4
            xdom = [px(XL[0]), px(XL[1])]
            xrange = [0, 4]
            xt = LEFT_XTICKS
            xminor = 0.2
            yrange = LEFT_YRANGE
            yt = LEFT_YTICKS
            yminor = 0.1
            yside = "left"
        else:
            va, vb = RIGHT_SERIES[row]
            traces = [(T_RIGHT[:len(va)], va), (T_RIGHT_B[:len(vb)], vb)]
            msize = 4.3
            xdom = [px(XR[0]), px(XR[1])]
            xrange = [0, 1]
            xt = RIGHT_XTICKS
            xminor = 0.04
            yrange = RIGHT_YRANGES[row]
            yt = RIGHT_YTICKS[row]
            yminor = RIGHT_YMINOR[row]
            yside = "right"

        for xs, ys in traces:
            if not ys:
                continue
            fig.add_trace(go.Scatter(x=xs, y=ys, mode="markers", xaxis=xr, yaxis=yr,
                                     marker=dict(size=msize, color="black", line=dict(width=0)),
                                     hoverinfo="skip", showlegend=False))

        layout[xa] = dict(domain=xdom, range=xrange, anchor=yr,
                          showline=True, linewidth=2, linecolor="black", mirror="ticks",
                          ticks="inside", ticklen=9, tickwidth=2, tickcolor="black",
                          tickmode="array", tickvals=xt, ticktext=[fmt(v) for v in xt],
                          minor=dict(tickmode="linear", tick0=0, dtick=xminor, ticks="inside",
                                     ticklen=5, tickwidth=1.5, tickcolor="black"),
                          showgrid=False, zeroline=False, showticklabels=bottom,
                          ticklabelstandoff=-5, tickfont=xtick_font)
        layout[ya] = dict(domain=ydom, range=yrange, anchor=xr, side=yside,
                          showline=True, linewidth=2, linecolor="black", mirror="ticks",
                          ticks="inside", ticklen=8, tickwidth=2, tickcolor="black",
                          tickmode="array", tickvals=yt, ticktext=[fmt(v) for v in yt],
                          minor=dict(tickmode="linear", tick0=0, dtick=yminor, ticks="inside",
                                     ticklen=3, tickwidth=1.2, tickcolor="black"),
                          showgrid=False, zeroline=False, showticklabels=True,
                          ticklabelstandoff=4, tickfont=ytick_font)

        lx = 97 if col == 0 else 432
        ly = LABEL_Y_LEFT[row] if col == 0 else LABEL_Y_RIGHT[row]
        annotations.append(dict(text=STAR_NAMES[row], x=px(lx), y=py(ly), xref="paper",
                                yref="paper", xanchor="left", yanchor="middle",
                                showarrow=False,
                                font=dict(family=FONT, size=18, color="black", weight="bold")))

big_font = dict(family=FONT, size=28, color="black", weight="bold")
title_font = dict(family=FONT, size=27, color="black", weight="bold")
annotations.append(dict(text="Δm", x=px(16), y=py(382), xref="paper", yref="paper",
                        textangle=-90, showarrow=False, xanchor="center", yanchor="middle",
                        font=big_font))
annotations.append(dict(text="Δm", x=px(815), y=py(382), xref="paper", yref="paper",
                        textangle=90, showarrow=False, xanchor="center", yanchor="middle",
                        font=big_font))
annotations.append(dict(text="Time (h)", x=px(243), y=py(793), xref="paper", yref="paper",
                        showarrow=False, xanchor="center", yanchor="middle", font=title_font))
annotations.append(dict(text="Time (h)", x=px(580), y=py(793), xref="paper", yref="paper",
                        showarrow=False, xanchor="center", yanchor="middle", font=title_font))
layout["annotations"] = annotations
fig.update_layout(**layout)
fig.write_html("out.html", config={"displayModeBar": False},
               post_script="document.body.style.margin='0px';document.body.style.overflow='hidden';")
